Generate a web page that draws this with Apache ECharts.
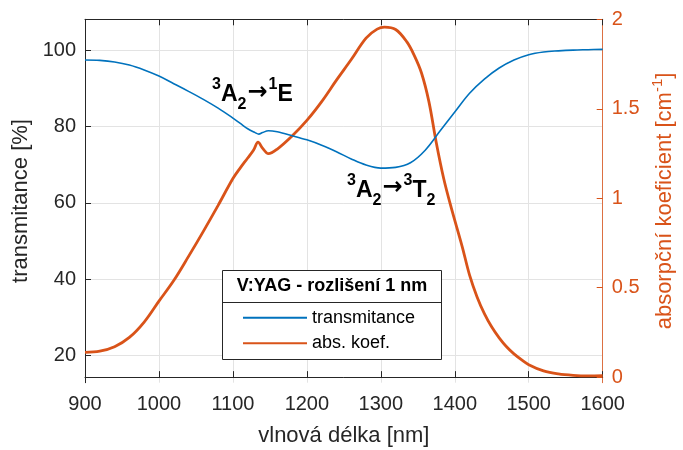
<!DOCTYPE html>
<html>
<head>
<meta charset="utf-8">
<script src="https://cdn.jsdelivr.net/npm/echarts@6/dist/echarts.min.js"></script>
<style>
  html, body { margin: 0; padding: 0; background: #fff; }
  #chart { width: 683px; height: 450px; }
</style>
</head>
<body>
<div id="chart"></div>
<script>
// Transmission spectrum of V:YAG (wavelength in nm, transmittance in %)
const wlTrans = [900, 920, 940, 960, 980, 1000, 1020, 1040, 1060, 1080, 1100, 1110, 1120, 1130, 1135,
  1140, 1148, 1160, 1180, 1200, 1220, 1240, 1260, 1280, 1300, 1320, 1340, 1360, 1380, 1400,
  1420, 1440, 1460, 1480, 1500, 1520, 1540, 1560, 1580, 1600];
const transmittance = [97.4, 97.3, 96.9, 96.1, 94.8, 93.2, 91.2, 89.2, 87.1, 84.8, 82.2, 80.8, 79.4, 78.4, 78.0,
  78.4, 78.9, 78.6, 77.6, 76.5, 75.1, 73.4, 71.5, 69.9, 69.1, 69.3, 70.5, 73.8, 78.8, 83.8,
  88.7, 92.4, 95.3, 97.4, 98.8, 99.5, 99.8, 100.0, 100.1, 100.2];

// Absorption coefficient (cm^-1)
const wlAbs = [900, 920, 940, 960, 980, 1000, 1020, 1040, 1060, 1080, 1100, 1110, 1120, 1128, 1134,
  1140, 1148, 1160, 1180, 1200, 1220, 1240, 1260, 1280, 1295, 1305, 1320, 1335, 1345, 1355,
  1365, 1375, 1385, 1395, 1410, 1420, 1430, 1440, 1450, 1460, 1470, 1480, 1490, 1500, 1520,
  1540, 1560, 1580, 1600];
const absCoef = [0.139, 0.145, 0.170, 0.222, 0.308, 0.425, 0.54, 0.675, 0.815, 0.96, 1.11, 1.17, 1.225, 1.27, 1.314,
  1.28, 1.249, 1.275, 1.348, 1.435, 1.54, 1.66, 1.775, 1.895, 1.945, 1.956, 1.943, 1.875, 1.80, 1.70,
  1.54, 1.31, 1.11, 0.95, 0.73, 0.57, 0.45, 0.355, 0.28, 0.22, 0.17, 0.13, 0.098, 0.07, 0.035,
  0.018, 0.01, 0.007, 0.008];

// Tick values
const xTicks = [900, 1000, 1100, 1200, 1300, 1400, 1500, 1600];
const leftTicks = [20, 40, 60, 80, 100];
const rightTicks = [0, 0.5, 1, 1.5, 2];

const BLUE = '#0072BD';
const ORANGE = '#D95319';
const AXIS = '#262626';
const GRID = '#E3E3E3';
const FONT = '"Liberation Sans", Arial, Helvetica, sans-serif';

const chart = echarts.init(document.getElementById('chart'), null, { renderer: 'canvas' });

const sub = { fontSize: 16, fontWeight: 'bold', fontFamily: FONT, color: '#000', lineHeight: 16, verticalAlign: 'bottom' };
const sup = { fontSize: 16, fontWeight: 'bold', fontFamily: FONT, color: '#000', lineHeight: 16, verticalAlign: 'top' };
const main = { fontSize: 23, fontWeight: 'bold', fontFamily: FONT, color: '#000', lineHeight: 36, verticalAlign: 'middle' };
const arrow = { fontSize: 24, fontWeight: 'bold', fontFamily: 'DejaVu Sans', color: '#000', lineHeight: 36,
  verticalAlign: 'middle', padding: [0, 1, 5, 1] };

chart.setOption({
  animation: false,
  backgroundColor: '#fff',
  grid: { left: 85, right: 80.3, top: 19.3, bottom: 67.3, containLabel: false, outerBoundsMode: 'none' },
  xAxis: [{
    type: 'value', position: 'bottom', min: xTicks[0], max: xTicks[xTicks.length - 1], interval: 100,
    name: 'vlnová délka [nm]', nameLocation: 'middle', nameGap: 42,
    nameTextStyle: { fontSize: 22, color: AXIS, fontFamily: FONT },
    axisLine: { show: true, lineStyle: { color: AXIS, width: 1 } },
    axisTick: { show: true, inside: true, length: 6, lineStyle: { color: AXIS } },
    axisLabel: { fontSize: 20, color: AXIS, fontFamily: FONT, margin: 12, formatter: v => String(v) },
    splitLine: { show: true, lineStyle: { color: GRID, width: 1 } }
  }, {
    type: 'value', position: 'top', min: xTicks[0], max: xTicks[xTicks.length - 1], interval: 100,
    axisLine: { show: true, lineStyle: { color: AXIS, width: 1 } },
    axisTick: { show: true, inside: true, length: 6, lineStyle: { color: AXIS } },
    axisLabel: { show: false },
    splitLine: { show: false }
  }],
  yAxis: [{
    type: 'value', position: 'left', min: 12.93, max: 108.06,
    name: 'transmitance [%]', nameLocation: 'middle', nameGap: 52,
    nameTextStyle: { fontSize: 22, color: AXIS, fontFamily: FONT },
    axisLine: { show: true, lineStyle: { color: AXIS, width: 1 } },
    axisTick: { show: true, inside: true, length: 6, lineStyle: { color: AXIS }, customValues: leftTicks },
    axisLabel: { fontSize: 20, color: AXIS, fontFamily: FONT, margin: 9, customValues: leftTicks },
    splitLine: { show: true, lineStyle: { color: GRID, width: 1 } }
  }, {
    type: 'value', position: 'right', min: -0.031, max: 2,
    name: 'absorpční koeficient [cm{s|-1}]', nameLocation: 'middle', nameGap: 49,
    nameTextStyle: {
      fontSize: 22, color: ORANGE, fontFamily: FONT, lineHeight: 30, verticalAlign: 'middle',
      rich: { s: { fontSize: 15, color: ORANGE, fontFamily: FONT, lineHeight: 14, verticalAlign: 'top' } }
    },
    axisLine: { show: true, lineStyle: { color: ORANGE, width: 1, opacity: 0.8 } },
    axisTick: { show: true, inside: true, length: 6, lineStyle: { color: ORANGE }, customValues: rightTicks },
    axisLabel: { fontSize: 20, color: ORANGE, fontFamily: FONT, margin: 9, customValues: rightTicks },
    splitLine: { show: false }
  }],
  legend: {
    orient: 'vertical', left: 242, top: 308.7, padding: 0, itemGap: 7.6,
    itemWidth: 64, itemHeight: 14, z: 10,
    itemStyle: { opacity: 0, borderWidth: 0 },
    textStyle: { fontSize: 18, color: '#000', fontFamily: FONT, lineHeight: 18 },
    data: ['transmitance', 'abs. koef.']
  },
  series: [{
    name: 'transmitance', type: 'line', xAxisIndex: 0, yAxisIndex: 0,
    data: wlTrans.map((w, i) => [w, transmittance[i]]),
    symbol: 'none', smooth: 0.35,
    lineStyle: { color: BLUE, width: 1.6 }, itemStyle: { color: BLUE }, z: 4
  }, {
    name: 'abs. koef.', type: 'line', xAxisIndex: 0, yAxisIndex: 1,
    data: wlAbs.map((w, i) => [w, absCoef[i]]),
    symbol: 'none', smooth: 0.35,
    lineStyle: { color: ORANGE, width: 2.8 }, itemStyle: { color: ORANGE }, z: 3
  }],
  graphic: [
    // Transition labels
    {
      type: 'text', left: 212, top: 77, z: 6,
      style: {
        text: '{p|3}{m|A}{b|2}{r|→}{p|1}{m|E}',
        rich: { p: sup, m: main, b: sub, r: arrow }
      }
    },
    {
      type: 'text', left: 347, top: 172.5, z: 6,
      style: {
        text: '{p|3}{m|A}{b|2}{r|→}{p|3}{m|T}{b|2}',
        rich: { p: sup, m: main, b: sub, r: arrow }
      }
    },
    // Legend frame with title
    {
      type: 'rect', z: 8,
      shape: { x: 222.5, y: 270.5, width: 219, height: 89 },
      style: { fill: '#fff', stroke: AXIS, lineWidth: 1 }
    },
    {
      type: 'line', z: 9,
      shape: { x1: 222.5, y1: 302.5, x2: 441.5, y2: 302.5 },
      style: { stroke: AXIS, lineWidth: 1 }
    },
    {
      type: 'text', z: 9, x: 332, y: 286.5,
      style: {
        text: 'V:YAG - rozlišení 1 nm', fontSize: 18, fontWeight: 'bold', fontFamily: FONT,
        fill: '#000', align: 'center', verticalAlign: 'middle'
      }
    }
  ]
});
</script>
</body>
</html>
